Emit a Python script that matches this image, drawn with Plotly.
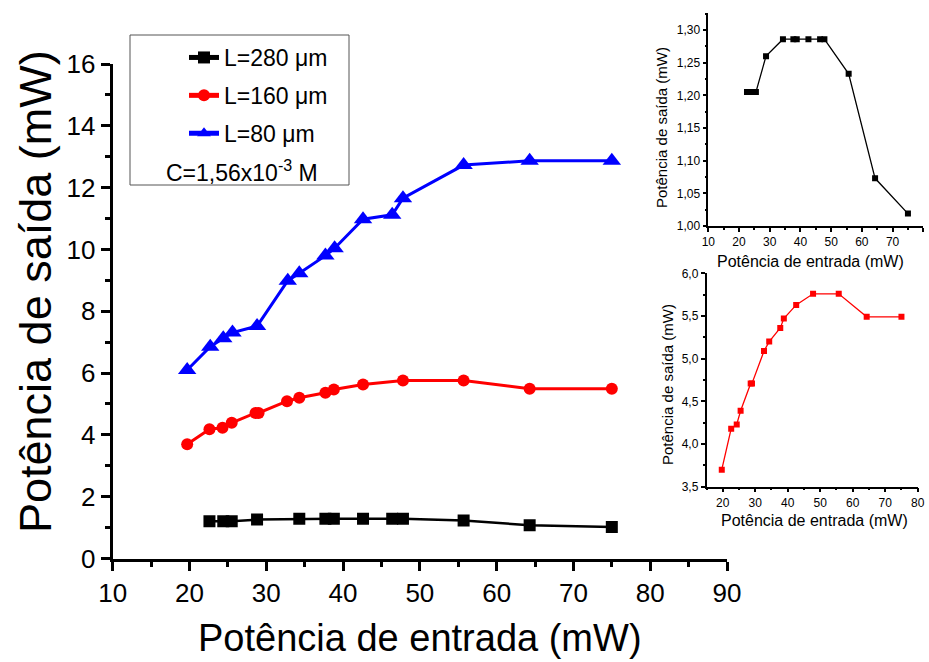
import plotly.graph_objects as go

# Input power (mW) and output power (mW) for three waveguide lengths
x_280 = [22.6, 24.4, 25.5, 28.8, 34.3, 37.7, 38.8, 42.6, 46.4, 47.8, 55.7, 64.3, 75.0]
p_280 = [1.205, 1.205, 1.205, 1.26, 1.286, 1.286, 1.286, 1.286, 1.286, 1.286, 1.233, 1.073, 1.019]

x_160 = [19.7, 22.6, 24.3, 25.5, 28.6, 29.0, 32.7, 34.3, 37.7, 38.8, 42.6, 47.8, 55.7, 64.3, 75.0]
p_160 = [3.70, 4.18, 4.23, 4.39, 4.71, 4.71, 5.09, 5.20, 5.36, 5.47, 5.63, 5.76, 5.76, 5.49, 5.49]

x_80 = [19.7, 22.7, 24.4, 25.6, 28.8, 32.8, 34.3, 37.7, 38.9, 42.6, 46.4, 47.8, 55.7, 64.3, 75.0]
p_80 = [6.10, 6.85, 7.13, 7.31, 7.52, 8.99, 9.23, 9.80, 10.04, 10.98, 11.12, 11.66, 12.73, 12.87, 12.87]

names = ["L=280 μm", "L=160 μm", "L=80 μm"]
concentration = "C=1,56x10<sup>-3</sup> M"
x_title = "Potência de entrada (mW)"
y_title = "Potência de saída (mW)"

FONT = "Arial, Liberation Sans, sans-serif"
W, H = 929, 662


def px(x):
    return x / W


def py(y):
    return 1 - y / H


fig = go.Figure()

# Main panel
fig.add_trace(go.Scatter(x=x_280, y=p_280, name=names[0], mode="lines+markers",
                         line=dict(color="black", width=2.5),
                         marker=dict(symbol="square", size=12, color="black"),
                         legendgroup="a", xaxis="x", yaxis="y"))
fig.add_trace(go.Scatter(x=x_160, y=p_160, name=names[1], mode="lines+markers",
                         line=dict(color="#ff0000", width=3),
                         marker=dict(symbol="circle", size=12, color="#ff0000"),
                         legendgroup="b", xaxis="x", yaxis="y"))
fig.add_trace(go.Scatter(x=x_80, y=p_80, name=names[2], mode="lines+markers",
                         line=dict(color="#0000ff", width=3),
                         marker=dict(symbol="triangle-up", size=16, color="#0000ff"),
                         legendgroup="c", xaxis="x", yaxis="y"))

# Inset: L=280 um
fig.add_trace(go.Scatter(x=x_280, y=p_280, mode="lines+markers", showlegend=False,
                         line=dict(color="black", width=1.3),
                         marker=dict(symbol="square", size=6, color="black"),
                         xaxis="x2", yaxis="y2"))
# Inset: L=160 um
fig.add_trace(go.Scatter(x=x_160, y=p_160, mode="lines+markers", showlegend=False,
                         line=dict(color="#ff0000", width=1.3),
                         marker=dict(symbol="square", size=6, color="#ff0000"),
                         xaxis="x3", yaxis="y3"))

main_ax = dict(showline=True, linecolor="black", linewidth=3, showgrid=False,
               zeroline=False, ticks="outside", ticklen=9, tickwidth=3,
               tickcolor="black", tickfont=dict(family=FONT, size=26, color="black"))
inset_ax = dict(showline=True, linecolor="black", linewidth=1.5, showgrid=False,
                zeroline=False, ticks="outside", ticklen=4, tickwidth=1.5,
                tickcolor="black", tickfont=dict(family=FONT, size=12, color="black"))

fig.update_layout(
    width=W, height=H,
    margin=dict(l=0, r=0, t=0, b=0, autoexpand=False),
    paper_bgcolor="white", plot_bgcolor="white",
    separators=",.",
    font=dict(family=FONT, color="black"),
    xaxis=dict(main_ax, domain=[px(112.7), px(727)], range=[10, 90], anchor="y",
               tick0=10, dtick=10,
               minor=dict(ticks="outside", ticklen=5, tickwidth=3, dtick=5, tickcolor="black")),
    yaxis=dict(main_ax, domain=[py(558.5), py(64)], range=[0, 16], anchor="x",
               tick0=0, dtick=2,
               minor=dict(ticks="outside", ticklen=5, tickwidth=3, dtick=1, tickcolor="black")),
    xaxis2=dict(inset_ax, domain=[px(708.3), px(923.3)], range=[10, 80], anchor="y2",
                tick0=10, dtick=10,
                minor=dict(ticks="outside", ticklen=2, tickwidth=1.5, dtick=5, tickcolor="black")),
    yaxis2=dict(inset_ax, domain=[py(226), py(13.3)], range=[1.0, 1.3256], anchor="x2",
                tick0=1.0, dtick=0.05, tickformat=".2f",
                minor=dict(ticks="outside", ticklen=2, tickwidth=1.5, dtick=0.025, tickcolor="black")),
    xaxis3=dict(inset_ax, domain=[px(706.5), px(917.7)], range=[15, 80], anchor="y3",
                tick0=0, dtick=10,
                minor=dict(ticks="outside", ticklen=2, tickwidth=1.5, dtick=5, tickcolor="black")),
    yaxis3=dict(inset_ax, domain=[py(486.7), py(273.3)], range=[3.5, 6.0], anchor="x3",
                tick0=3.5, dtick=0.5, tickformat=".1f",
                minor=dict(ticks="outside", ticklen=2, tickwidth=1.5, dtick=0.25, tickcolor="black")),
    showlegend=True,
    legend=dict(x=px(184), y=py(36), xanchor="left", yanchor="top",
                bgcolor="rgba(0,0,0,0)", borderwidth=0,
                font=dict(family=FONT, size=23, color="black"),
                tracegroupgap=5, itemsizing="constant"),
)

# Legend frame and concentration note
fig.add_shape(type="rect", xref="paper", yref="paper",
              x0=px(130), x1=px(349), y0=py(185), y1=py(35),
              line=dict(color="#555555", width=1), fillcolor="rgba(0,0,0,0)")
fig.add_annotation(text=concentration, xref="paper", yref="paper",
                   x=px(242), y=py(171), xanchor="center", yanchor="middle",
                   showarrow=False, font=dict(family=FONT, size=23, color="black"))

# Axis titles
fig.add_annotation(text=x_title, xref="paper", yref="paper", x=px(420), y=py(638),
                   xanchor="center", yanchor="middle", showarrow=False,
                   font=dict(family=FONT, size=38, color="black"))
fig.add_annotation(text=y_title, xref="paper", yref="paper", x=px(35), y=py(292),
                   xanchor="center", yanchor="middle", showarrow=False, textangle=-90,
                   font=dict(family=FONT, size=45, color="black"))
fig.add_annotation(text=x_title, xref="paper", yref="paper", x=px(810), y=py(262),
                   xanchor="center", yanchor="middle", showarrow=False,
                   font=dict(family=FONT, size=16, color="black"))
fig.add_annotation(text=y_title, xref="paper", yref="paper", x=px(662), y=py(128),
                   xanchor="center", yanchor="middle", showarrow=False, textangle=-90,
                   font=dict(family=FONT, size=15, color="black"))
fig.add_annotation(text=x_title, xref="paper", yref="paper", x=px(814), y=py(520),
                   xanchor="center", yanchor="middle", showarrow=False,
                   font=dict(family=FONT, size=16, color="black"))
fig.add_annotation(text=y_title, xref="paper", yref="paper", x=px(667), y=py(385),
                   xanchor="center", yanchor="middle", showarrow=False, textangle=-90,
                   font=dict(family=FONT, size=15, color="black"))

fig.write_html("out.html")
